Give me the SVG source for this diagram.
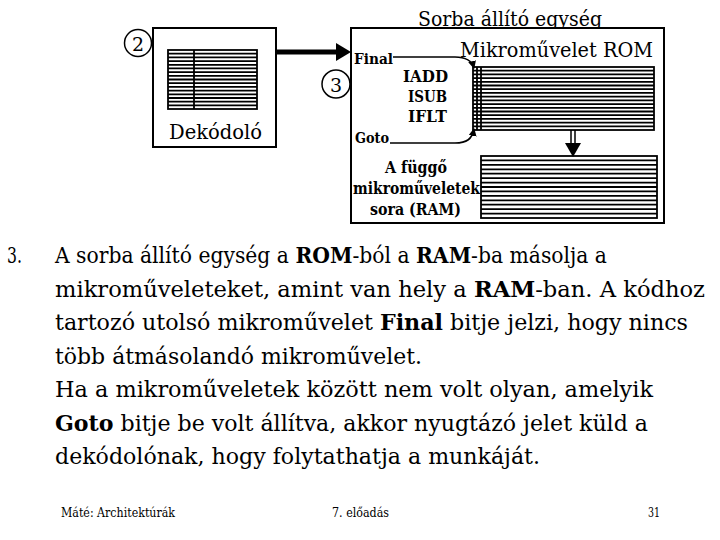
<svg xmlns="http://www.w3.org/2000/svg" width="720" height="540" viewBox="0 0 720 540">
<defs>
<style>
.b{font-weight:bold}
.box{fill:#fff;stroke:#000;stroke-width:2}
.grid{fill:none;stroke:#000;stroke-width:1.8}
.ln{fill:none;stroke:#000;stroke-width:1.6}
.circ{fill:#fff;stroke:#000;stroke-width:1.5}
</style>
<marker id="ah" markerWidth="8" markerHeight="8" refX="7" refY="4" orient="auto" markerUnits="userSpaceOnUse">
<path d="M0,0 L8,4 L0,8 Z" fill="#000"/>
</marker>
</defs>
<rect width="720" height="540" fill="#fff"/>
<g font-family="DejaVu Serif, Liberation Serif, serif" fill="#000">

<g id="decoder">
<rect class="box" x="153" y="28" width="123" height="119" stroke-width="1.5"/>
<rect class="grid" x="168" y="50" width="89" height="59"/>
<path class="grid" d="M168 53.7H257M168 57.4H257M168 61.1H257M168 64.8H257M168 68.4H257M168 72.1H257M168 75.8H257M168 79.5H257M168 83.2H257M168 86.9H257M168 90.6H257M168 94.3H257M168 98H257M168 101.6H257M168 105.3H257M194 50V109"/>
<text x="169" y="139" font-size="21" textLength="93" lengthAdjust="spacingAndGlyphs">Dekódoló</text>
</g>

<g id="step2">
<circle class="circ" cx="138" cy="43" r="13.5"/>
<text x="138" y="50.5" font-size="19" text-anchor="middle">2</text>
</g>

<g id="sequencer">
<text x="418" y="26" font-size="20" textLength="184" lengthAdjust="spacingAndGlyphs">Sorba állító egység</text>
<rect class="box" x="351" y="28" width="313" height="195"/>
<text x="460" y="57" font-size="20" textLength="193" lengthAdjust="spacingAndGlyphs">Mikroművelet ROM</text>
<text class="b" x="354" y="64" font-size="15.5" textLength="39" lengthAdjust="spacingAndGlyphs">Final</text>
<text class="b" x="355" y="143" font-size="15.5" textLength="34" lengthAdjust="spacingAndGlyphs">Goto</text>
<text class="b" x="403" y="82" font-size="16.5" textLength="45" lengthAdjust="spacingAndGlyphs">IADD</text>
<text class="b" x="408" y="102" font-size="16.5" textLength="39" lengthAdjust="spacingAndGlyphs">ISUB</text>
<text class="b" x="408" y="122" font-size="16.5" textLength="39" lengthAdjust="spacingAndGlyphs">IFLT</text>
</g>

<g id="step3">
<circle class="circ" cx="336" cy="84" r="14"/>
<text x="336" y="91.5" font-size="19" text-anchor="middle">3</text>
</g>

<g id="rom">
<rect class="grid" x="473" y="67" width="181" height="63"/>
<path class="grid" d="M473 70.7H654M473 74.4H654M473 78.1H654M473 81.8H654M473 85.5H654M473 89.2H654M473 92.9H654M473 96.6H654M473 100.3H654M473 104.1H654M473 107.8H654M473 111.5H654M473 115.2H654M473 118.9H654M473 122.6H654M473 126.3H654M477 67V130M481 67V130"/>
</g>

<g id="ram">
<text class="b" x="385" y="173" font-size="16.5" textLength="62" lengthAdjust="spacingAndGlyphs">A függő</text>
<text class="b" x="353" y="194" font-size="16.5" textLength="127" lengthAdjust="spacingAndGlyphs">mikroműveletek</text>
<text class="b" x="370" y="215" font-size="16.5" textLength="91" lengthAdjust="spacingAndGlyphs">sora (RAM)</text>
<rect class="grid" x="481" y="156" width="176" height="62" stroke-width="2"/>
<path class="grid" stroke-width="2" d="M481 160.4H657M481 164.9H657M481 169.3H657M481 173.7H657M481 178.1H657M481 182.6H657M481 187H657M481 191.4H657M481 195.9H657M481 200.3H657M481 204.7H657M481 209.1H657M481 213.6H657"/>
</g>

<g id="connectors">
<line x1="276" y1="52" x2="338" y2="52" stroke="#000" stroke-width="5"/>
<polygon points="336,43 351,52 336,61" fill="#000"/>
<path class="ln" d="M393 57H455C467 57 472 61 474 68" marker-end="url(#ah)"/>
<path class="ln" d="M390 143H455C467 143 472 139 474 129" marker-end="url(#ah)"/>
<path fill="none" stroke="#000" stroke-width="1.5" d="M571 130V144M575 130V144"/>
<polygon points="565,143 581,143 573,157" fill="#000"/>
</g>

<g id="body" font-size="22">
<text x="7" y="263" textLength="15" lengthAdjust="spacingAndGlyphs">3.</text>
<text x="55" y="263" textLength="552" lengthAdjust="spacingAndGlyphs">A sorba állító egység a <tspan class="b">ROM</tspan>-ból a <tspan class="b">RAM</tspan>-ba másolja a</text>
<text x="55" y="297" textLength="650" lengthAdjust="spacingAndGlyphs">mikroműveleteket, amint van hely a <tspan class="b">RAM</tspan>-ban. A kódhoz</text>
<text x="55" y="330" textLength="633" lengthAdjust="spacingAndGlyphs">tartozó utolsó mikroművelet <tspan class="b">Final</tspan> bitje jelzi, hogy nincs</text>
<text x="55" y="364" textLength="367" lengthAdjust="spacingAndGlyphs">több átmásolandó mikroművelet.</text>
<text x="55" y="397" textLength="598" lengthAdjust="spacingAndGlyphs">Ha a mikroműveletek között nem volt olyan, amelyik</text>
<text x="55" y="431" textLength="593" lengthAdjust="spacingAndGlyphs"><tspan class="b">Goto</tspan> bitje be volt állítva, akkor nyugtázó jelet küld a</text>
<text x="55" y="464" textLength="485" lengthAdjust="spacingAndGlyphs">dekódolónak, hogy folytathatja a munkáját.</text>
</g>

<g id="footer" font-size="13">
<text x="61" y="517" textLength="114" lengthAdjust="spacingAndGlyphs">Máté: Architektúrák</text>
<text x="332" y="517" textLength="57" lengthAdjust="spacingAndGlyphs">7. előadás</text>
<text x="648" y="517" textLength="12" lengthAdjust="spacingAndGlyphs">31</text>
</g>
</g>
</svg>
